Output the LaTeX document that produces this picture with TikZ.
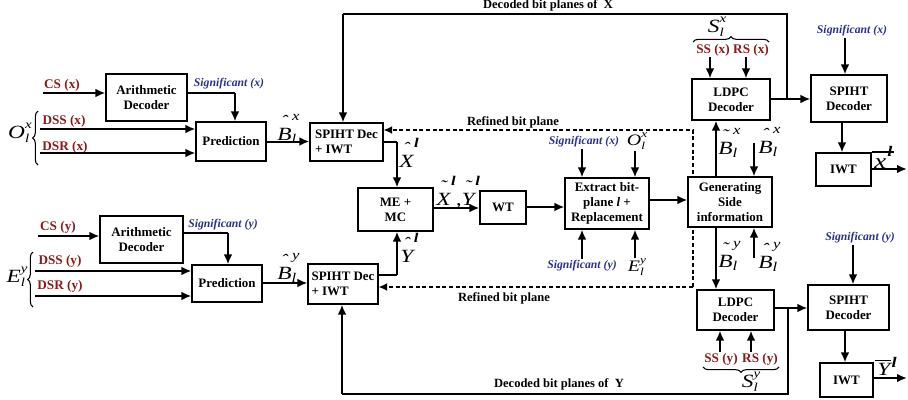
\documentclass[tikz,border=0pt]{standalone}
\usepackage{fontspec}
\setmainfont{Liberation Serif}
\newfontfamily\lf{Liberation Serif}[FakeStretch=1.25]
\usetikzlibrary{arrows.meta,decorations.pathreplacing}
\definecolor{myred}{HTML}{8B1A1A}
\definecolor{myblue}{HTML}{2B2F8F}
% accent label: #1 accent glyph, #2 letter, #3 subscript, #4 superscript
\newcommand{\acclab}[4]{\setbox0=\hbox{\lf\itshape\fontsize{14}{14}\selectfont #2}%
 \vbox{\lf\itshape\baselineskip=15pt\lineskiplimit=-30pt
 \hbox{\fontsize{10}{10}\selectfont\rlap{\hspace*{\dimexpr 0.5\wd0-2.5pt}\raisebox{-5pt}{\fontsize{12}{12}\selectfont #1}}\hspace*{\dimexpr\wd0+0.5pt}{#4}}
 \hbox{\box0\raisebox{-2.5pt}{\fontsize{10}{10}\selectfont #3}}}}
% bar label: #1 letter, #2 superscript, #3 bar height, #4 letter size, #5 sup raise, #6 bar length
\newcommand{\barlab}[6]{%
 \hbox{\lf\itshape\fontsize{#4}{#4}\selectfont\rlap{\hspace*{-1.5pt}\rule[#3]{#6}{1pt}}#1\hspace*{1pt}\raisebox{#5}{\bfseries\fontsize{11}{11}\selectfont #2}}}
% sub/sup label: #1 big size, #2 small size, #3 letter, #4 sub, #5 sup
\newcommand{\sslab}[5]{\hbox{\lf\itshape\fontsize{#1}{#1}\selectfont #3\fontsize{#2}{#2}\selectfont\rlap{\raisebox{-0.35em}{#4}}\raisebox{0.8em}{#5}}}
\newcommand{\bx}[7][]{\node[box,#1,minimum width={(#5-#3)*0.75pt},minimum height={(#6-#4)*0.75pt}] (#2) at ({(#3+#5)/2},{(#4+#6)/2}) {#7};}
\begin{document}
\begin{tikzpicture}[x=0.75pt,y=-0.75pt,
 box/.style={draw,line width=0.8pt,fill=white,align=center,inner sep=0pt,font=\fontsize{9.7}{11.2}\selectfont\bfseries},
 arr/.style={line width=1.5pt,-{Latex[length=7.5pt,width=6.5pt]}},
 thinl/.style={line width=0.8pt},
 dsh/.style={line width=1.2pt,dash pattern=on 3pt off 2pt,-{Latex[length=6.5pt,width=6pt]}},
 redlab/.style={text=myred,font=\fontsize{9.9}{10}\selectfont\bfseries,inner sep=1pt},
 bluelab/.style={text=myblue,font=\fontsize{8.8}{10}\selectfont\bfseries\itshape,inner sep=1pt},
 blab/.style={font=\fontsize{9.4}{10}\selectfont\bfseries,inner sep=1pt},
 mlab/.style={inner sep=0pt},
 alab/.style={inner sep=0pt,anchor=base west},
 brc/.style={thinl,decorate,decoration={brace,amplitude=4pt}}
]
\useasboundingbox (0,0) rectangle (908,400);

% ---- boxes (left / middle)
\bx{arx}{106}{74}{187}{121}{Arithmetic\\Decoder}
\bx{prx}{196}{122}{266}{161}{Prediction}
\bx[align=left]{spx}{310}{123}{383}{161}{SPIHT Dec\\+ IWT}
\bx{ary}{100}{216}{183}{263}{Arithmetic\\Decoder}
\bx{pry}{192}{265}{262}{302}{Prediction}
\bx[align=left]{spy}{308}{264}{378}{304}{SPIHT Dec\\+ IWT}
\bx{me}{358}{188}{433}{231}{ME +\\MC}
\bx{wt}{480}{191}{526}{224}{WT}
\bx{ex}{565}{178}{649}{229}{Extract bit-\\plane \textit{l} +\\Replacement}

% ---- dashed refined bit plane paths
\coordinate (dtop) at (693,130);
\coordinate (dbot) at (693,287);
\draw[dsh] (dbot) -- (dtop) -- (spx.east |- dtop);
\draw[dsh] (dbot) -- (spy.east |- dbot);
\node[blab] (rbp1) at (513,122) {Refined bit plane};
\node[blab] (rbp2) at (504,298) {Refined bit plane};

% ---- boxes (right)
\bx{gen}{688}{177}{772}{227}{Generating\\Side\\information}
\bx{ldx}{692}{79}{770}{120}{LDPC\\Decoder}
\bx{sdx}{811}{75}{887}{122}{SPIHT\\Decoder}
\bx{iwx}{816}{153}{871}{186}{IWT}
\bx{ldy}{697}{290}{774}{330}{LDPC\\Decoder}
\bx{sdy}{808}{285}{889}{330}{SPIHT\\Decoder}
\bx{iwy}{820}{363}{873}{397}{IWT}

% ---- upper-left inputs
\node[redlab] (csx) at (62,85) {CS (x)};
\coordinate (csxs) at (43,93);
\draw[arr] (csxs) -- (arx.west |- csxs);
\node[redlab] (dssx) at (64,121) {DSS (x)};
\coordinate (dssxs) at (40,129);
\draw[arr] (dssxs) -- (prx.west |- dssxs);
\node[redlab] (dsrx) at (65,147) {DSR (x)};
\coordinate (dsrxs) at (40,153);
\draw[arr] (dsrxs) -- (prx.west |- dsrxs);
\draw[brc] (38,165) -- (38,111);
\node[mlab] (ox) at (20,133) {\sslab{14}{9}{O}{l}{x}};
\node[bluelab] (sigxa) at (229,84) {Significant (x)};
\coordinate (sxa) at (235,93);
\draw[thinl] (arx.east |- sxa) -- (sxa);
\draw[arr] (sxa) -- (prx.north -| sxa);
\draw[arr] (prx.east) -- (spx.west |- prx.east);
\node[alab] (bhx1) at (277,140) {\acclab{ˆ}{B}{l}{x}};

% ---- lower-left inputs
\node[redlab] (csy) at (58,227) {CS (y)};
\coordinate (csys) at (38,236);
\draw[arr] (csys) -- (ary.west |- csys);
\node[redlab] (dssy) at (60,261) {DSS (y)};
\coordinate (dssys) at (35,271);
\draw[arr] (dssys) -- (pry.west |- dssys);
\node[redlab] (dsry) at (60,286) {DSR (y)};
\coordinate (dsrys) at (35,296);
\draw[arr] (dsrys) -- (pry.west |- dsrys);
\draw[brc] (33,307) -- (33,252);
\node[mlab] (ey) at (17,277) {\sslab{14}{9}{E}{l}{y}};
\node[bluelab] (sigya) at (223,225) {Significant (y)};
\coordinate (sya) at (228,233);
\draw[thinl] (ary.east |- sya) -- (sya);
\draw[arr] (sya) -- (pry.north -| sya);
\coordinate (bpy) at (0,283);
\draw[arr] (pry.east |- bpy) -- (spy.west |- bpy);
\node[alab] (bhy1) at (277,279) {\acclab{ˆ}{B}{l}{y}};

% ---- ME + MC, WT, Extract
\coordinate (xj) at (397,142);
\draw[thinl] (spx.east |- xj) -- (xj);
\draw[arr] (xj) -- (me.north -| xj);
\node[alab] (xhat) at (399,167) {\acclab{ˆ}{X}{}{\bfseries l}};
\coordinate (yj) at (397,275);
\draw[thinl] (spy.east |- yj) -- (yj);
\draw[arr] (yj) -- (me.south -| yj);
\node[alab] (yhat) at (400,262) {\acclab{ˆ}{Y}{}{\bfseries l}};
\coordinate (mw) at (0,208);
\draw[arr] (me.east |- mw) -- (wt.west |- mw);
\node[alab] (xyt) at (436,205) {\hbox{\acclab{˜}{X}{}{\bfseries l}{\lf\itshape\fontsize{14}{14}\selectfont ,}\acclab{˜}{Y}{}{\bfseries l}}};
\coordinate (we) at (0,207);
\draw[arr] (wt.east |- we) -- (ex.west |- we);
\coordinate (eg) at (0,200);
\draw[arr] (ex.east |- eg) -- (gen.west |- eg);
\node[bluelab] (sigxb) at (584,142) {Significant (x)};
\coordinate (sxb) at (582,149);
\draw[arr] (sxb) -- (ex.north -| sxb);
\node[mlab] (oxb) at (637,141) {\sslab{12}{8}{O}{l}{x}};
\coordinate (oxs) at (635,151);
\draw[arr] (oxs) -- (ex.north -| oxs);
\node[bluelab] (sigyb) at (582,266) {Significant (y)};
\coordinate (syb) at (582,259);
\draw[arr] (syb) -- (ex.south -| syb);
\node[mlab] (eyb) at (637,267) {\sslab{12}{8}{E}{l}{y}};
\coordinate (eys) at (635,258);
\draw[arr] (eys) -- (ex.south -| eys);

% ---- Generating side information
\coordinate (gv) at (716,0);
\draw[arr] (gen.north -| gv) -- (ldx.south -| gv);
\draw[arr] (gen.south -| gv) -- (ldy.north -| gv);
\node[alab] (btx) at (718,154) {\acclab{˜}{B}{l}{x}};
\node[alab] (bty) at (718,267) {\acclab{˜}{B}{l}{y}};
\coordinate (bhxs) at (754,143);
\draw[arr] (bhxs) -- (gen.north -| bhxs);
\node[alab] (bhx2) at (758,153) {\acclab{ˆ}{B}{l}{x}};
\coordinate (bhys) at (754,258);
\draw[arr] (bhys) -- (gen.south -| bhys);
\node[alab] (bhy2) at (758,268) {\acclab{ˆ}{B}{l}{y}};

% ---- X branch (top right)
\node[redlab] (ssx) at (713,50) {SS (x)};
\node[redlab] (rsx) at (751,50) {RS (x)};
\coordinate (ssxs) at (710,57);
\coordinate (rsxs) at (746,57);
\draw[arr] (ssxs) -- (ldx.north -| ssxs);
\draw[arr] (rsxs) -- (ldx.north -| rsxs);
\draw[brc] (693,42) -- (769,42);
\node[mlab] (sx) at (717,27) {\sslab{14}{9}{S}{l}{x}};
\coordinate (lx) at (0,99);
\draw[arr] (ldx.east |- lx) -- (sdx.west |- lx);
\coordinate (fbx) at (787,99);
\coordinate (fbxt) at (343,14);
\draw[thinl] (fbx) |- (fbxt);
\draw[arr] (fbxt) -- (spx.north -| fbxt);
\node[blab] (dbx) at (548,5) {Decoded bit planes of \ X};
\node[bluelab] (sigxc) at (852,31) {Significant (x)};
\coordinate (sxc) at (845,38);
\draw[arr] (sxc) -- (sdx.north -| sxc);
\coordinate (sdv) at (842,0);
\draw[arr] (sdx.south -| sdv) -- (iwx.north -| sdv);
\coordinate (outx) at (907,169);
\draw[arr] (iwx.east |- outx) -- (outx);
\node[alab] (xbar) at (874,168) {\barlab{x}{l}{11.5pt}{16}{9pt}{16pt}};

% ---- Y branch (bottom right)
\node[redlab] (ssy) at (721,359) {SS (y)};
\node[redlab] (rsy) at (760,359) {RS (y)};
\coordinate (ssys) at (720,352);
\coordinate (rsys) at (751,352);
\draw[arr] (ssys) -- (ldy.south -| ssys);
\draw[arr] (rsys) -- (ldy.south -| rsys);
\draw[brc] (779,367) -- (703,367);
\node[mlab] (sy) at (751,382) {\sslab{14}{9}{S}{l}{y}};
\coordinate (ly) at (0,308);
\draw[arr] (ldy.east |- ly) -- (sdy.west |- ly);
\coordinate (fby) at (788,308);
\coordinate (fbyb) at (342,394);
\draw[thinl] (fby) |- (fbyb);
\draw[arr] (fbyb) -- (spy.south -| fbyb);
\node[blab] (dby) at (559,384) {Decoded bit planes of \ Y};
\node[bluelab] (sigyc) at (860,238) {Significant (y)};
\coordinate (syc) at (853,245);
\draw[arr] (syc) -- (sdy.north -| syc);
\coordinate (sdvy) at (845,0);
\draw[arr] (sdy.south -| sdvy) -- (iwy.north -| sdvy);
\coordinate (outy) at (907,378);
\draw[arr] (iwy.east |- outy) -- (outy);
\node[alab] (ybar) at (877,375) {\barlab{Y}{l}{10.5pt}{14}{6pt}{12pt}};
\end{tikzpicture}
\end{document}
